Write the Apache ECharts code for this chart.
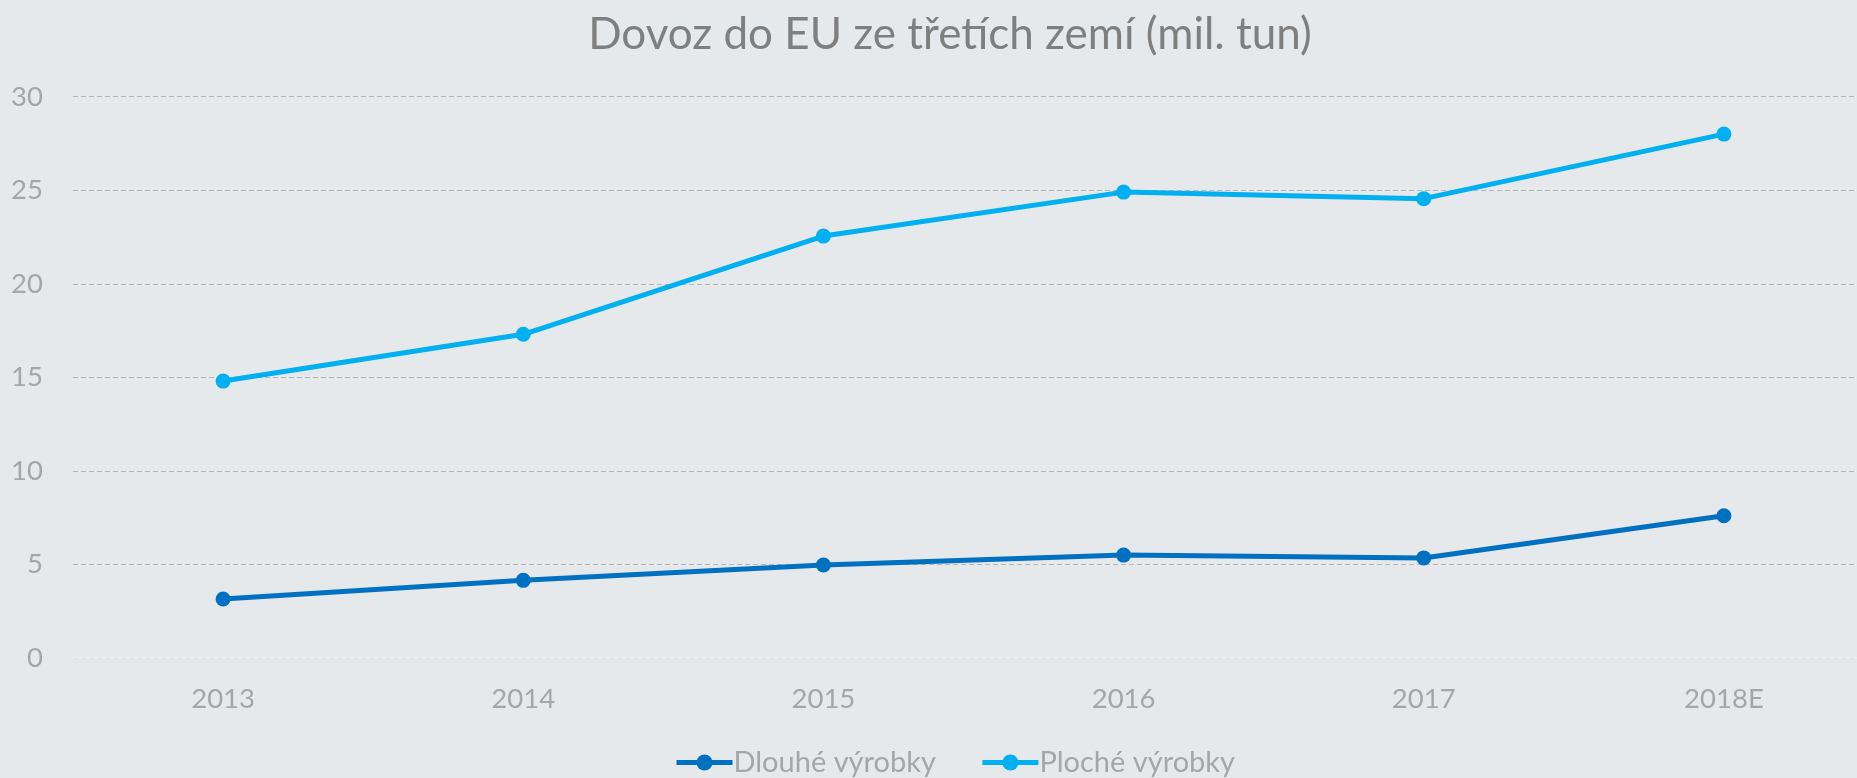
<!DOCTYPE html>
<html>
<head>
<meta charset="utf-8">
<script src="https://cdn.jsdelivr.net/npm/echarts@6/dist/echarts.min.js"></script>
<style>
html, body { margin: 0; padding: 0; background: #e6e9ec; }
#chart { width: 1857px; height: 778px; }
</style>
</head>
<body>
<div id="chart"></div>
<script>
// roky
var years = ['2013', '2014', '2015', '2016', '2017', '2018E'];
// mil. tun
var dlouhe = [3.15, 4.15, 4.97, 5.5, 5.35, 7.6];
var ploche = [14.8, 17.3, 22.55, 24.9, 24.55, 28.0];

var chart = echarts.init(document.getElementById('chart'));

var labelFont = 'Lato, "Open Sans", sans-serif';

var option = {
    backgroundColor: '#e6e9ec',
    title: {
        text: 'Dovoz do EU ze třetích zemí (mil. tun)',
        left: 945,
        top: 8,
        textAlign: 'center',
        textStyle: {
            color: '#7f7f7f',
            fontFamily: labelFont,
            fontWeight: 'normal',
            fontSize: 44
        }
    },
    legend: {
        bottom: -4,
        left: 669,
        itemWidth: 56,
        itemHeight: 20,
        itemGap: 44,
        lineStyle: { width: 5 },
        textStyle: {
            color: '#a6a6a6',
            fontFamily: labelFont,
            fontSize: 29,
            padding: [0, 0, 0, -4]
        },
        data: ['Dlouhé výrobky', 'Ploché výrobky']
    },
    grid: {
        left: 73,
        right: -17,
        top: 96.7,
        bottom: 120,
        outerBoundsMode: 'none',
        containLabel: false
    },
    xAxis: {
        type: 'category',
        data: years,
        boundaryGap: true,
        axisTick: { show: false },
        axisLine: { lineStyle: { color: '#edeff1', width: 1.5 } },
        axisLabel: {
            color: '#a6a6a6',
            fontFamily: labelFont,
            fontSize: 27.5,
            margin: 27
        }
    },
    yAxis: {
        type: 'value',
        min: 0,
        max: 30,
        interval: 5,
        axisLine: { show: false },
        axisTick: { show: false },
        axisLabel: {
            color: '#a6a6a6',
            fontFamily: labelFont,
            fontSize: 27.5,
            margin: 30
        },
        splitLine: {
            lineStyle: { color: '#b8b8b8', type: [5, 3], width: 1 }
        }
    },
    series: [
        {
            name: 'Dlouhé výrobky',
            type: 'line',
            data: dlouhe,
            symbol: 'circle',
            symbolSize: 15,
            color: '#0070c0',
            lineStyle: { width: 5 }
        },
        {
            name: 'Ploché výrobky',
            type: 'line',
            data: ploche,
            symbol: 'circle',
            symbolSize: 15,
            color: '#00b0f0',
            lineStyle: { width: 5 }
        }
    ]
};
chart.setOption(option);
</script>
</body>
</html>
